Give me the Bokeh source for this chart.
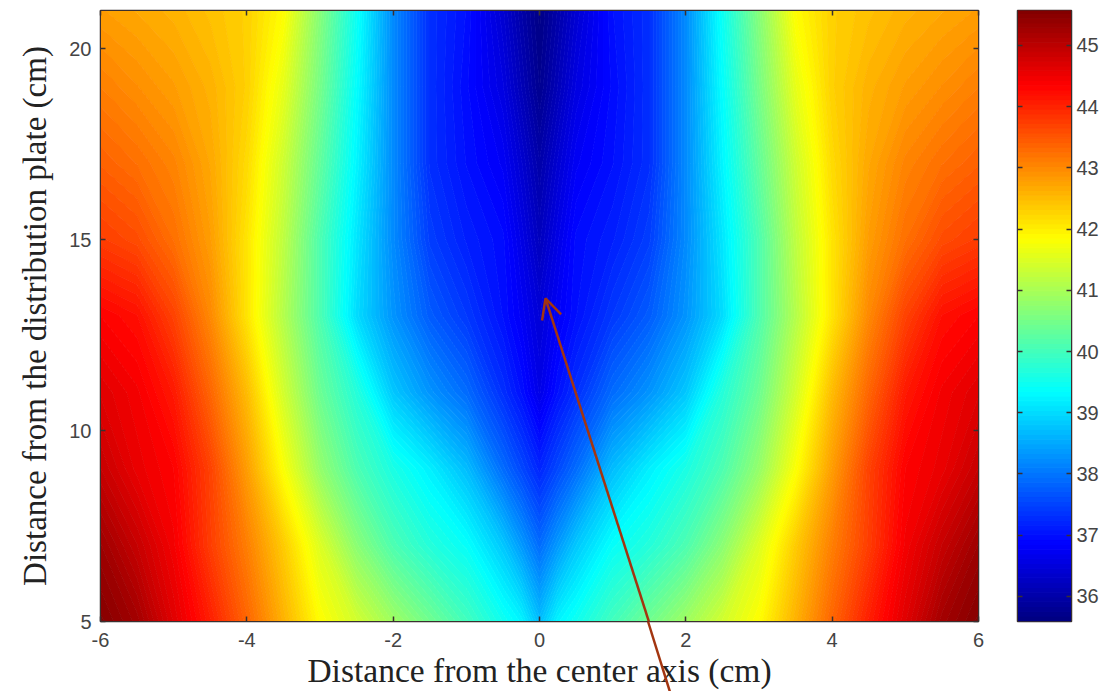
import numpy as np
from bokeh.embed import file_html
from bokeh.layouts import row
from bokeh.models import Arrow, LinearAxis, OpenHead, FixedTicker, Range1d, Title
from bokeh.plotting import figure
from bokeh.resources import INLINE

x_cm = [-6, -5.5, -5, -4.5, -4, -3.5, -3, -2.5, -2, -1.5, -1, -0.5, -0.25, 0,
        0.25, 0.5, 1, 1.5, 2, 2.5, 3, 3.5, 4, 4.5, 5, 5.5, 6]
y_cm = [5, 7, 9, 11, 13, 15, 17, 19, 21]
temp = [
    [45.55, 45.25, 44.65, 44.05, 43.35, 42.6, 41.85, 41.4, 40.9, 40.45, 40.0, 39.5, 39.25, 38.7,
     39.25, 39.5, 40.0, 40.45, 40.9, 41.4, 41.85, 42.6, 43.35, 44.05, 44.65, 45.25, 45.55],
    [45.3, 44.9, 44.45, 43.75, 43.1, 42.35, 41.5, 40.7, 40.1, 39.7, 39.4, 38.8, 38.35, 37.9,
     38.35, 38.8, 39.4, 39.7, 40.1, 40.7, 41.5, 42.35, 43.1, 43.75, 44.45, 44.9, 45.3],
    [44.9, 44.55, 44.35, 43.7, 42.8, 41.8, 40.8, 40.1, 39.6, 39.2, 38.7, 37.9, 37.55, 37.2,
     37.55, 37.9, 38.7, 39.2, 39.6, 40.1, 40.8, 41.8, 42.8, 43.7, 44.35, 44.55, 44.9],
    [44.65, 44.45, 44.1, 43.35, 42.5, 41.4, 40.4, 39.7, 38.8, 38.3, 37.9, 37.3, 37.0, 36.6,
     37.0, 37.3, 37.9, 38.3, 38.8, 39.7, 40.4, 41.4, 42.5, 43.35, 44.1, 44.45, 44.65],
    [44.35, 44.2, 43.7, 43.0, 42.1, 41.1, 40.1, 39.0, 38.3, 37.75, 37.4, 37.0, 36.75, 36.45,
     36.75, 37.0, 37.4, 37.75, 38.3, 39.0, 40.1, 41.1, 42.1, 43.0, 43.7, 44.2, 44.35],
    [43.75, 43.6, 43.25, 42.8, 42.1, 41.2, 40.1, 39.1, 38.2, 37.45, 37.15, 36.95, 36.6, 36.2,
     36.6, 36.95, 37.15, 37.45, 38.2, 39.1, 40.1, 41.2, 42.1, 42.8, 43.25, 43.6, 43.75],
    [43.4, 43.25, 43.05, 42.7, 42.2, 41.35, 40.3, 39.25, 38.2, 37.3, 37.0, 36.75, 36.4, 36.0,
     36.4, 36.75, 37.0, 37.3, 38.2, 39.25, 40.3, 41.35, 42.2, 42.7, 43.05, 43.25, 43.4],
    [43.1, 42.95, 42.8, 42.6, 42.3, 41.6, 40.5, 39.35, 38.2, 37.3, 36.95, 36.55, 36.15, 35.75,
     36.15, 36.55, 36.95, 37.3, 38.2, 39.35, 40.5, 41.6, 42.3, 42.6, 42.8, 42.95, 43.1],
    [42.8, 42.7, 42.6, 42.45, 42.3, 41.85, 40.65, 39.45, 38.2, 37.3, 37.0, 36.4, 36.0, 35.65,
     36.0, 36.4, 37.0, 37.3, 38.2, 39.45, 40.65, 41.85, 42.3, 42.45, 42.6, 42.7, 42.8],
]
x_ticks = [-6, -4, -2, 0, 2, 4, 6]
y_ticks = [5, 10, 15, 20]
bar_ticks = [36, 37, 38, 39, 40, 41, 42, 43, 44, 45]
x_label = "Distance from the center axis (cm)"
y_label = "Distance from the distribution plate (cm)"
t_low, t_high = 35.6, 45.6
bar_low, bar_high = 35.59, 45.57
arrow_tail = (1.80, 3.17)
arrow_tip = (0.082, 13.46)
arrow_exit = (1.503, 5)


def jet(n):
    out = []
    for f in (np.arange(n) + 0.5) / n:
        r = np.clip(min(4 * f - 1.5, 4.5 - 4 * f), 0, 1)
        g = np.clip(min(4 * f - 0.5, 3.5 - 4 * f), 0, 1)
        b = np.clip(min(4 * f + 0.5, 2.5 - 4 * f), 0, 1)
        out.append("#%02x%02x%02x" % (int(r * 255), int(g * 255), int(b * 255)))
    return out


N = 128
fills = jet(N)
levels = np.linspace(t_low, t_high, N + 1)
edge = "#3a3030"
tick_col = "#444444"
arrow_col = "#a33510"


def style_ticks(ax, ticks, labelled=True):
    ax.ticker = FixedTicker(ticks=ticks)
    ax.major_tick_in = 5
    ax.major_tick_out = 0
    ax.minor_tick_line_color = None
    ax.major_tick_line_color = edge
    ax.major_tick_line_width = 1.5
    ax.axis_line_color = edge
    if labelled:
        ax.major_label_text_font = "Liberation Sans"
        ax.major_label_text_font_size = "20px"
        ax.major_label_text_color = tick_col
    else:
        ax.major_label_text_font_size = "0px"
        ax.major_label_text_color = None
        ax.major_label_standoff = 0


p = figure(width=1010, height=691, output_backend="svg", toolbar_location=None,
           x_range=Range1d(-6, 6), y_range=Range1d(5, 21),
           min_border_left=99, min_border_right=32, min_border_top=10, min_border_bottom=70)
p.contour(np.array(x_cm), np.array(y_cm), np.array(temp), levels=levels,
          fill_color=fills, line_color=fills + [fills[-1]], line_width=1)
p.grid.visible = False
p.outline_line_color = edge
p.outline_line_width = 1.5

style_ticks(p.xaxis[0], x_ticks)
style_ticks(p.yaxis[0], y_ticks)
p.xaxis[0].major_label_overrides = {t: str(t) for t in x_ticks}
p.xaxis[0].major_label_standoff = 11
p.yaxis[0].major_label_standoff = 9

top_axis = LinearAxis()
style_ticks(top_axis, x_ticks, labelled=False)
p.add_layout(top_axis, "above")
right_axis = LinearAxis()
style_ticks(right_axis, y_ticks, labelled=False)
p.add_layout(right_axis, "right")

p.add_layout(Title(text=x_label, align="center", text_font="Liberation Serif",
                   text_font_size="33.5px", text_font_style="normal", text_color="#222222",
                   standoff=0), "below")
p.add_layout(Title(text=y_label, align="center", offset=-2, text_font="Liberation Serif",
                   text_font_size="33px", text_font_style="normal", text_color="#222222",
                   standoff=28), "left")

p.add_layout(Arrow(end=OpenHead(size=20, line_color=arrow_col, line_width=2.5),
                   x_start=arrow_tail[0], y_start=arrow_tail[1],
                   x_end=arrow_tip[0], y_end=arrow_tip[1],
                   line_color=arrow_col, line_width=2.5))

# The part of the arrow below the frame goes in a transparent strip on top of the page,
# because a frame clips everything drawn in it.
tail = figure(width=40, height=70, output_backend="svg", toolbar_location=None,
              x_range=Range1d(1.4, 1.4 + 40 / 73.25), y_range=Range1d(5 - 70 / 38.19, 5),
              min_border=0, background_fill_alpha=0, border_fill_alpha=0,
              outline_line_color=None, x_axis_type=None, y_axis_type=None,
              styles={"position": "absolute", "left": "640px", "top": "621px",
                      "width": "40px", "height": "70px"})
tail.grid.visible = False
tail.line([arrow_exit[0], arrow_tail[0]], [arrow_exit[1], arrow_tail[1]],
          line_color=arrow_col, line_width=2.5)

b = figure(width=92, height=691, output_backend="svg", toolbar_location=None,
           x_range=Range1d(0, 1), y_range=Range1d(bar_low, bar_high),
           min_border_left=7, min_border_right=31, min_border_top=10, min_border_bottom=68)
b.quad(left=0, right=1, bottom=levels[:-1], top=levels[1:], fill_color=fills, line_color=fills)
b.grid.visible = False
b.xaxis.visible = False
b.yaxis.visible = False
b.outline_line_color = edge
b.outline_line_width = 1.5
baxis = LinearAxis()
style_ticks(baxis, bar_ticks)
baxis.major_label_standoff = 5
b.add_layout(baxis, "right")
laxis = LinearAxis()
style_ticks(laxis, bar_ticks, labelled=False)
b.add_layout(laxis, "left")

page = row(p, b, spacing=0)
open("out.html", "w").write(file_html([page, tail], INLINE))
